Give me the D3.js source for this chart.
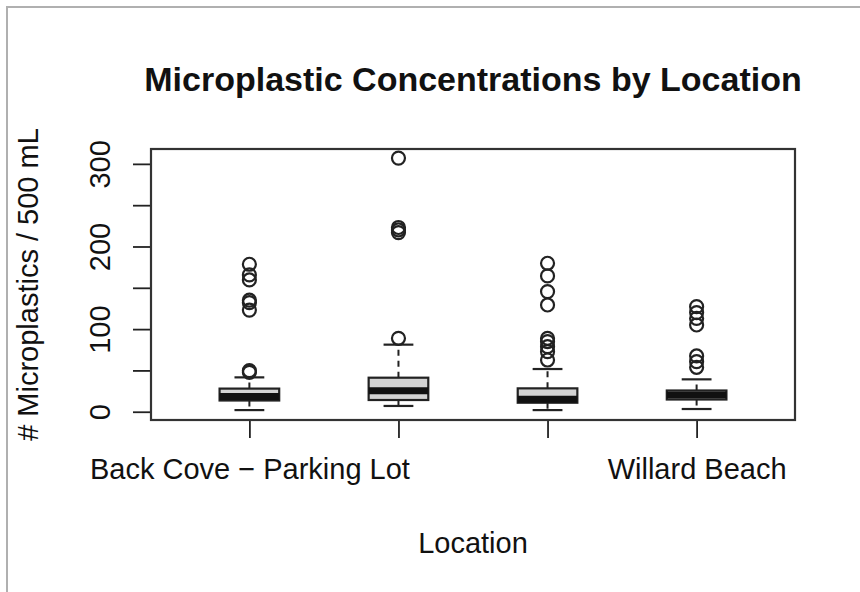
<!DOCTYPE html>
<html>
<head>
<meta charset="utf-8">
<script src="https://cdn.jsdelivr.net/npm/d3@7"></script>
<style>
  body { margin: 0; background: #fff; }
  text { font-family: "Liberation Sans", Arial, Helvetica, sans-serif; fill: #111; }
</style>
</head>
<body>
<svg id="chart" width="860" height="592"></svg>
<script>
// box stats, one entry per location
var categories = [1, 2, 3, 4];
// only two tick labels are printed in the picture (R dropped the overlapping ones)
var tickLabels = ["Back Cove \u2212 Parking Lot", "", "", "Willard Beach"];
var whiskerLow = [2, 7, 2, 3.3];
var q1 = [13.6, 14.2, 10.9, 14.8];
var medians = [18.4, 25.4, 15, 20.2];
var q3 = [28, 41.2, 28.3, 25.7];
var whiskerHigh = [41.6, 81.2, 51.7, 39.2];
var outliers = [
  [47.7, 49.7, 123, 132, 135, 159.5, 165.6, 178.5],
  [88.9, 216.8, 220, 223, 307],
  [62.6, 72.7, 78.7, 84.8, 88.9, 129.2, 145.4, 164.4, 179.7],
  [53.8, 60.6, 67.5, 105, 113, 120, 127.2]
];
var yTicks = [0, 50, 100, 150, 200, 250, 300];
var yTickLabels = [0, 100, 200, 300];

var svg = d3.select("#chart");
var pLeft = 151, pRight = 795, pTop = 149, pBottom = 420;

var x = d3.scaleLinear().domain([0.34, 4.66]).range([pLeft, pRight]);
var y = d3.scaleLinear().domain([-10, 318]).range([pBottom, pTop]);
var boxW = x(1.4) - x(1);

// screenshot frame lines
svg.append("path")
    .attr("d", "M7,592V7H860")
    .attr("fill", "none")
    .attr("stroke", "#b0b0b0")
    .attr("stroke-width", 2);

//draws y axis with rotated labels like R
var yAxis = d3.axisLeft(y).tickValues(yTicks).tickSize(18)
    .tickFormat(function(d) { return yTickLabels.indexOf(d) >= 0 ? d : ""; });
svg.append("g")
    .attr("transform", "translate(" + pLeft + ",0)")
    .call(yAxis)
    .call(function(g) { g.select(".domain").remove(); })
    .call(function(g) {
      g.selectAll("line").attr("stroke", "#222").attr("stroke-width", 1.8);
      g.selectAll("text")
          .attr("transform", "rotate(-90)")
          .attr("x", 0).attr("y", -41).attr("dy", 0)
          .style("text-anchor", "middle")
          .style("font-size", "29px");
    });

//x axis
var xAxis = d3.axisBottom(x).tickValues(categories).tickSize(18)
    .tickFormat(function(d, i) { return tickLabels[i]; });
svg.append("g")
    .attr("transform", "translate(0," + pBottom + ")")
    .call(xAxis)
    .call(function(g) { g.select(".domain").remove(); })
    .call(function(g) {
      g.selectAll("line").attr("stroke", "#222").attr("stroke-width", 1.8);
      g.selectAll("text").attr("y", 59).attr("dy", 0).style("font-size", "29px");
    });

var box = svg.selectAll(".box")
    .data(categories)
    .enter().append("g")
    .attr("class", "box");

// dashed whiskers
box.append("line")
    .attr("x1", function(d) { return x(d); })
    .attr("x2", function(d) { return x(d); })
    .attr("y1", function(d, i) { return y(q3[i]); })
    .attr("y2", function(d, i) { return y(whiskerHigh[i]); })
    .attr("stroke", "#222").attr("stroke-width", 2).attr("stroke-dasharray", "6,5");
box.append("line")
    .attr("x1", function(d) { return x(d); })
    .attr("x2", function(d) { return x(d); })
    .attr("y1", function(d, i) { return y(q1[i]); })
    .attr("y2", function(d, i) { return y(whiskerLow[i]); })
    .attr("stroke", "#222").attr("stroke-width", 2).attr("stroke-dasharray", "6,5");

// staples
[whiskerHigh, whiskerLow].forEach(function(arr) {
  box.append("line")
      .attr("x1", function(d) { return x(d) - boxW / 4; })
      .attr("x2", function(d) { return x(d) + boxW / 4; })
      .attr("y1", function(d, i) { return y(arr[i]); })
      .attr("y2", function(d, i) { return y(arr[i]); })
      .attr("stroke", "#222").attr("stroke-width", 2.2);
});

box.append("rect")
    .attr("x", function(d) { return x(d) - boxW / 2; })
    .attr("width", boxW)
    .attr("y", function(d, i) { return y(q3[i]); })
    .attr("height", function(d, i) { return y(q1[i]) - y(q3[i]); })
    .attr("fill", "#d3d3d3")
    .attr("stroke", "#222").attr("stroke-width", 2.2);

box.append("line")
    .attr("x1", function(d) { return x(d) - boxW / 2; })
    .attr("x2", function(d) { return x(d) + boxW / 2; })
    .attr("y1", function(d, i) { return y(medians[i]); })
    .attr("y2", function(d, i) { return y(medians[i]); })
    .attr("stroke", "#111").attr("stroke-width", 7);

box.selectAll(".dot")
    .data(function(d, i) { return outliers[i].map(function(v) { return { c: d, v: v }; }); })
    .enter().append("circle")
    .attr("class", "dot")
    .attr("cx", function(d) { return x(d.c); })
    .attr("cy", function(d) { return y(d.v); })
    .attr("r", 6.5)
    .attr("fill", "none")
    .attr("stroke", "#222").attr("stroke-width", 2.2);

// plot frame
svg.append("rect")
    .attr("x", pLeft).attr("y", pTop)
    .attr("width", pRight - pLeft).attr("height", pBottom - pTop)
    .attr("fill", "none")
    .attr("stroke", "#333").attr("stroke-width", 2.2);

svg.append("text")
    .attr("x", (pLeft + pRight) / 2).attr("y", 91)
    .style("text-anchor", "middle")
    .style("font-size", "34px").style("font-weight", "bold")
    .text("Microplastic Concentrations by Location");

svg.append("text")
    .attr("x", (pLeft + pRight) / 2).attr("y", 553)
    .style("text-anchor", "middle")
    .style("font-size", "29px")
    .text("Location");

svg.append("text")
    .attr("transform", "translate(38," + (pTop + pBottom) / 2 + ") rotate(-90)")
    .style("text-anchor", "middle")
    .style("font-size", "29px")
    .text("# Microplastics / 500 mL");
</script>
</body>
</html>
